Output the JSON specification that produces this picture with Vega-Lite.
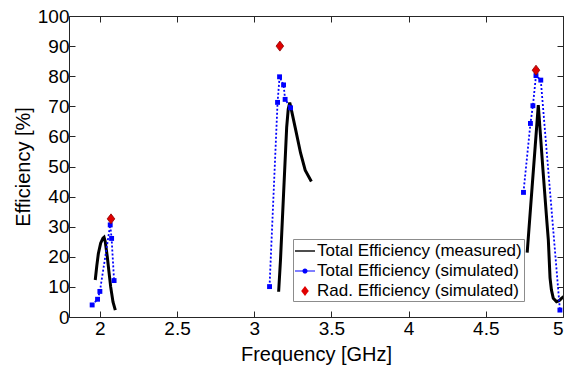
{
  "$schema": "https://vega.github.io/schema/vega-lite/v6.json",
  "width": 494,
  "height": 301,
  "autosize": "none",
  "padding": {"left": 69, "top": 16, "right": 5, "bottom": 57},
  "config": {
    "view": {"stroke": null},
    "font": "Liberation Sans",
    "axis": {"grid": false, "domainColor": "#262626", "tickColor": "#262626", "labelColor": "#000000", "titleColor": "#000000", "labelFont": "Liberation Sans", "titleFont": "Liberation Sans", "labelFontSize": 19, "titleFontSize": 20, "titleFontWeight": "normal", "tickSize": -6, "domainWidth": 1, "tickWidth": 1}
  },
  "datasets": {
    "measured": [
      {"f": 1.97, "e": 12.3, "g": 1}, {"f": 1.98, "e": 17, "g": 1}, {"f": 1.99, "e": 21, "g": 1}, {"f": 2.005, "e": 24.5, "g": 1}, {"f": 2.02, "e": 26.2, "g": 1}, {"f": 2.027, "e": 26.5, "g": 1}, {"f": 2.035, "e": 25, "g": 1}, {"f": 2.048, "e": 20, "g": 1}, {"f": 2.06, "e": 14.5, "g": 1}, {"f": 2.07, "e": 10, "g": 1}, {"f": 2.085, "e": 5, "g": 1}, {"f": 2.1, "e": 2.3, "g": 1},
      {"f": 3.158, "e": 8.4, "g": 2}, {"f": 3.17, "e": 19, "g": 2}, {"f": 3.19, "e": 41, "g": 2}, {"f": 3.21, "e": 63, "g": 2}, {"f": 3.22, "e": 69, "g": 2}, {"f": 3.23, "e": 71.2, "g": 2}, {"f": 3.24, "e": 69, "g": 2}, {"f": 3.265, "e": 63, "g": 2}, {"f": 3.3, "e": 54.5, "g": 2}, {"f": 3.33, "e": 48.8, "g": 2}, {"f": 3.37, "e": 45, "g": 2},
      {"f": 4.768, "e": 21.4, "g": 3}, {"f": 4.8, "e": 43.2, "g": 3}, {"f": 4.82, "e": 56.8, "g": 3}, {"f": 4.84, "e": 70.4, "g": 3}, {"f": 4.87, "e": 49, "g": 3}, {"f": 4.895, "e": 32, "g": 3}, {"f": 4.905, "e": 25.6, "g": 3}, {"f": 4.916, "e": 13, "g": 3}, {"f": 4.925, "e": 9, "g": 3}, {"f": 4.937, "e": 6.2, "g": 3}, {"f": 4.958, "e": 5.1, "g": 3}, {"f": 4.975, "e": 5.4, "g": 3}, {"f": 4.99, "e": 6.2, "g": 3}, {"f": 5.01, "e": 7, "g": 3}
    ],
    "simulated": [
      {"f": 1.95, "e": 4.0, "g": 1}, {"f": 1.985, "e": 5.9, "g": 1}, {"f": 2.0, "e": 8.5, "g": 1}, {"f": 2.067, "e": 30.6, "g": 1}, {"f": 2.076, "e": 26.1, "g": 1}, {"f": 2.092, "e": 12.1, "g": 1},
      {"f": 3.099, "e": 10.1, "g": 2}, {"f": 3.151, "e": 71.3, "g": 2}, {"f": 3.164, "e": 79.8, "g": 2}, {"f": 3.19, "e": 77.1, "g": 2}, {"f": 3.2, "e": 72.3, "g": 2}, {"f": 3.235, "e": 69.5, "g": 2},
      {"f": 4.744, "e": 41.4, "g": 3}, {"f": 4.789, "e": 64.3, "g": 3}, {"f": 4.805, "e": 70.2, "g": 3}, {"f": 4.825, "e": 80.2, "g": 3}, {"f": 4.856, "e": 78.7, "g": 3}, {"f": 4.98, "e": 2.3, "g": 3}
    ],
    "rad": [
      {"f": 2.072, "e": 32.6, "s": "Rad. Efficiency (simulated)"},
      {"f": 3.166, "e": 90.0, "s": "Rad. Efficiency (simulated)"},
      {"f": 4.825, "e": 82.0, "s": "Rad. Efficiency (simulated)"}
    ]
  },
  "layer": [
    {
      "data": {"name": "measured"},
      "mark": {"type": "line", "color": "#000000", "strokeWidth": 3, "clip": true},
      "encoding": {
        "x": {"field": "f", "type": "quantitative", "scale": {"domain": [1.8, 5], "nice": false, "zero": false},
          "axis": {"orient": "bottom", "values": [2, 2.5, 3, 3.5, 4, 4.5, 5], "format": "~g", "title": "Frequency [GHz]", "labelPadding": 8, "titlePadding": 6}},
        "y": {"field": "e", "type": "quantitative", "scale": {"domain": [0, 100], "nice": false},
          "axis": {"orient": "left", "values": [0, 10, 20, 30, 40, 50, 60, 70, 80, 90, 100], "format": "d", "title": "Efficiency [%]", "labelPadding": 6, "titlePadding": 4}},
        "detail": {"field": "g", "type": "nominal"}
      }
    },
    {
      "data": {"name": "simulated"},
      "mark": {"type": "line", "color": "#0000ff", "strokeWidth": 1.8, "strokeDash": [2, 2], "clip": true},
      "encoding": {
        "x": {"field": "f", "type": "quantitative", "axis": {"orient": "top", "values": [2, 2.5, 3, 3.5, 4, 4.5, 5], "labels": false, "title": null}},
        "y": {"field": "e", "type": "quantitative", "axis": {"orient": "right", "values": [0, 10, 20, 30, 40, 50, 60, 70, 80, 90, 100], "labels": false, "title": null}},
        "detail": {"field": "g", "type": "nominal"}
      }
    },
    {
      "data": {"name": "simulated"},
      "mark": {"type": "point", "filled": true, "opacity": 1, "color": "#0000ff", "shape": "square", "size": 24},
      "encoding": {
        "x": {"field": "f", "type": "quantitative", "axis": null},
        "y": {"field": "e", "type": "quantitative", "axis": null}
      }
    },
    {
      "data": {"name": "rad"},
      "mark": {"type": "point", "filled": true, "opacity": 1, "size": 400, "stroke": "#8b0000", "strokeWidth": 0.8},
      "encoding": {
        "x": {"field": "f", "type": "quantitative", "axis": null},
        "y": {"field": "e", "type": "quantitative", "axis": null},
        "shape": {"field": "s", "type": "nominal",
          "scale": {"domain": ["Total Efficiency (measured)", "Total Efficiency (simulated)", "Rad. Efficiency (simulated)"], "range": ["M-1,-0.07H1V0.07H-1Z", "M-1,-0.06H1V0.06H-1Z M-0.26,0A0.26,0.26 0 1,1 0.26,0A0.26,0.26 0 1,1 -0.26,0Z", "M0,-0.5L0.38,0L0,0.5L-0.38,0Z"]}},
        "color": {"field": "s", "type": "nominal",
          "scale": {"domain": ["Total Efficiency (measured)", "Total Efficiency (simulated)", "Rad. Efficiency (simulated)"], "range": ["#000000", "#0000ff", "#e00000"]},
          "legend": {
            "orient": "none", "legendX": 224, "legendY": 223, "title": null,
            "labelFont": "Liberation Sans", "labelFontSize": 17, "labelColor": "#000000", "labelLimit": 0,
            "strokeColor": "#8c8c8c", "fillColor": "#ffffff", "padding": 2, "rowPadding": 2, "labelOffset": 2,
            "symbolSize": 400, "symbolStrokeWidth": 0,
            "encode": {"symbols": {"update": {
              "strokeWidth": {"value": 0},
              "opacity": {"value": 1}
            }}}
          }
        }
      }
    }
  ],
  "resolve": {"axis": {"x": "independent", "y": "independent"}}
}
